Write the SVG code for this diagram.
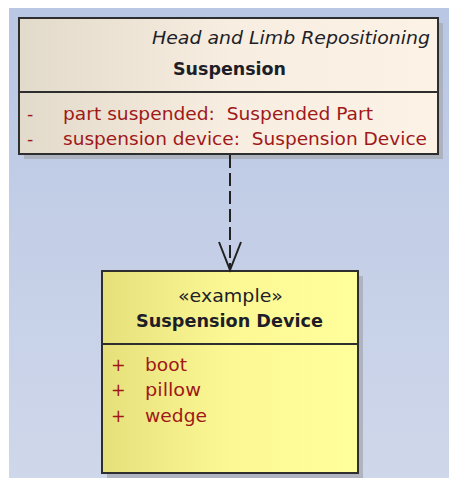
<svg xmlns="http://www.w3.org/2000/svg" width="449" height="478" viewBox="0 0 449 478">
<defs>
<linearGradient id="bg" x1="0" y1="0" x2="0" y2="1">
<stop offset="0" stop-color="#b9c7e4"/>
<stop offset="1" stop-color="#cfd7ea"/>
</linearGradient>
<linearGradient id="gTop" x1="0" y1="0" x2="1" y2="0">
<stop offset="0" stop-color="#e2dacb"/>
<stop offset="0.5" stop-color="#f7ede0"/>
<stop offset="1" stop-color="#fcf2e5"/>
</linearGradient>
<linearGradient id="gBot" x1="0" y1="0" x2="1" y2="0">
<stop offset="0" stop-color="#e5e07a"/>
<stop offset="0.5" stop-color="#fcf894"/>
<stop offset="1" stop-color="#ffff9c"/>
</linearGradient>
<marker id="open" markerUnits="userSpaceOnUse" markerWidth="32" markerHeight="28" viewBox="0 0 32 28" refX="29" refY="13" orient="auto">
<path d="M1,2 L29,13 L1,24" fill="none" stroke="#222" stroke-width="2"/>
</marker>
<style>
.shadow{fill:#a7abb5;opacity:0.8}
.box{stroke:#2e2e2e;stroke-width:2}
.div{stroke:#2e2e2e;stroke-width:2}
text{font-family:"DejaVu Sans","Liberation Sans",sans-serif;font-size:17.5px;white-space:pre}
.name{font-weight:bold;fill:#1e1e28}
.ns{font-style:italic;fill:#1e1e28}
.ster{fill:#1e1e28}
.attr{fill:#a01818}
.conn{stroke:#222;stroke-width:2;fill:none;stroke-dasharray:13 5}
</style>
</defs>
<rect x="0" y="0" width="449" height="478" fill="#ffffff"/>
<rect x="9" y="8" width="440" height="470" fill="url(#bg)"/>

<g id="node-suspension">
<rect class="shadow" x="24" y="23" width="419" height="136"/>
<rect class="box" x="19" y="18" width="419" height="136" fill="url(#gTop)"/>
<line class="div" x1="19" y1="92" x2="438" y2="92"/>
<text class="ns" x="430" y="44" text-anchor="end" textLength="278" lengthAdjust="spacingAndGlyphs">Head and Limb Repositioning</text>
<text class="name" x="229.5" y="75" text-anchor="middle" textLength="113" lengthAdjust="spacingAndGlyphs">Suspension</text>
<text class="attr" x="27" y="120">-</text>
<text class="attr" x="63" y="120" textLength="310" lengthAdjust="spacingAndGlyphs">part suspended:  Suspended Part</text>
<text class="attr" x="27" y="145">-</text>
<text class="attr" x="63" y="145" textLength="364" lengthAdjust="spacingAndGlyphs">suspension device:  Suspension Device</text>
</g>

<g id="node-suspension-device">
<rect class="shadow" x="107" y="276" width="256" height="202"/>
<rect class="box" x="102" y="271" width="256" height="202" fill="url(#gBot)"/>
<line class="div" x1="102" y1="344" x2="358" y2="344"/>
<text class="ster" x="230.5" y="302" text-anchor="middle" textLength="105" lengthAdjust="spacingAndGlyphs">«example»</text>
<text class="name" x="229.5" y="327" text-anchor="middle" textLength="187" lengthAdjust="spacingAndGlyphs">Suspension Device</text>
<text class="attr" x="111" y="371">+</text>
<text class="attr" x="145" y="371" textLength="42" lengthAdjust="spacingAndGlyphs">boot</text>
<text class="attr" x="111" y="396">+</text>
<text class="attr" x="145" y="396" textLength="56" lengthAdjust="spacingAndGlyphs">pillow</text>
<text class="attr" x="111" y="422">+</text>
<text class="attr" x="145" y="422" textLength="62" lengthAdjust="spacingAndGlyphs">wedge</text>
</g>

<g id="connectors">
<line class="conn" x1="230" y1="155" x2="230" y2="270" marker-end="url(#open)"/>
</g>
</svg>
